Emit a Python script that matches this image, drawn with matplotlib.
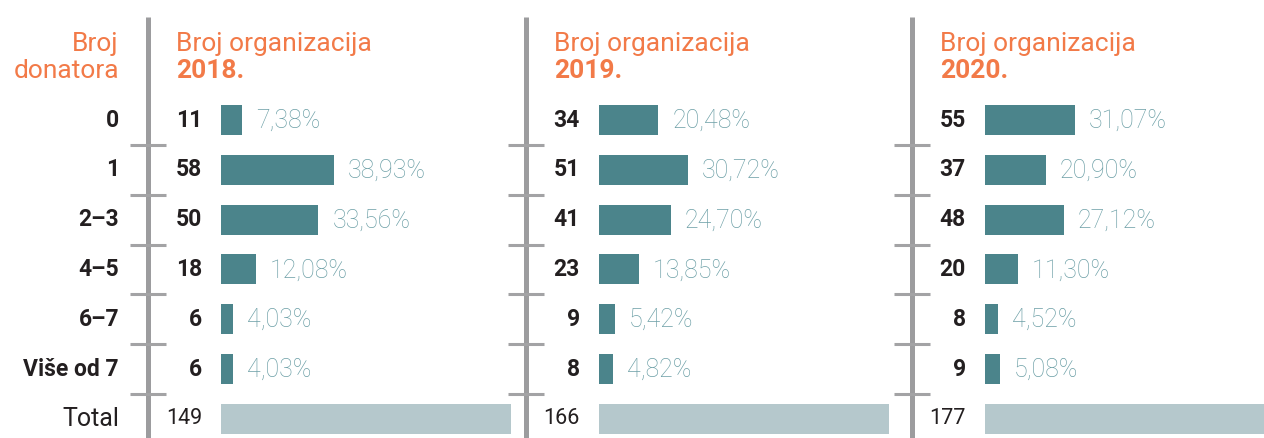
import matplotlib.pyplot as plt

# data
categories = ["0", "1", "2–3", "4–5", "6–7", "Više od 7"]
years = ["2018.", "2019.", "2020."]
counts_2018 = [11, 58, 50, 18, 6, 6]
counts_2019 = [34, 51, 41, 23, 9, 8]
counts_2020 = [55, 37, 48, 20, 8, 9]
share_2018 = [7.38, 38.93, 33.56, 12.08, 4.03, 4.03]
share_2019 = [20.48, 30.72, 24.70, 13.85, 5.42, 4.82]
share_2020 = [31.07, 20.90, 27.12, 11.30, 4.52, 5.08]
totals = [149, 166, 177]

counts = [counts_2018, counts_2019, counts_2020]
shares = [share_2018, share_2019, share_2020]

ORANGE = "#F27A48"
TEAL = "#4B848B"
PCT = "#6C9FA6"
TOTAL = "#B5C8CC"
GREY = "#9C9C9E"
DARK = "#231F20"

plt.rcParams['font.family'] = ['Roboto', 'DejaVu Sans']

fig = plt.figure(figsize=(12.64, 4.38), dpi=100)
ax = fig.add_axes([0, 0, 1, 1])
ax.set_xlim(0, 1264)
ax.set_ylim(6.385, -2.41)   # rows run top to bottom
ax.axis('off')

line_x = [148, 526, 912]   # x of the grey axis line in each panel
scale = 2.9                # px per percent
rows = list(range(len(categories)))
total_row = len(categories)

# left labels
ax.text(119, -1.53, "Broj", ha='right', va='center', color=ORANGE, fontsize=19)
ax.text(119, -0.98, "donatora", ha='right', va='center', color=ORANGE, fontsize=19)
for i, c in enumerate(categories):
    ax.text(119, i, c, ha='right', va='center', color=DARK, fontsize=16.5, fontweight='bold')
ax.text(119, total_row, "Total", ha='right', va='center', color=DARK, fontsize=18)

for p in range(3):
    lx = line_x[p]
    x0 = lx + 73
    # vertical line and ticks
    ax.plot([lx, lx], [-2.07, 6.5], color=GREY, lw=3.6, solid_capstyle='butt', zorder=1)
    for i in rows:
        ax.plot([lx - 18, lx + 18], [i + 0.5, i + 0.5], color="#A3A3A5", lw=2.2,
                solid_capstyle='butt', zorder=1)

    ax.text(lx + 28, -1.53, "Broj organizacija", ha='left', va='center', color=ORANGE, fontsize=19)
    ax.text(lx + 28, -0.98, years[p], ha='left', va='center', color=ORANGE, fontsize=19,
            fontweight='bold')

    widths = [s * scale for s in shares[p]]
    ax.barh(rows, widths, left=x0, height=0.6, color=TEAL, zorder=2)
    ax.barh([total_row], [100 * scale], left=x0, height=0.6, color=TOTAL, zorder=2)

    for i in rows:
        ax.text(x0 - 19, i, str(counts[p][i]), ha='right', va='center', color=DARK,
                fontsize=16.5, fontweight='bold')
        lbl = ("%.2f%%" % shares[p][i]).replace('.', ',')
        ax.text(x0 + widths[i] + 14, i + 0.02, lbl, ha='left', va='center', color=PCT,
                fontsize=18, fontweight='light')
    ax.text(x0 - 19, total_row, str(totals[p]), ha='right', va='center', color=DARK, fontsize=15.5)

fig.savefig("out.png", dpi=100)
